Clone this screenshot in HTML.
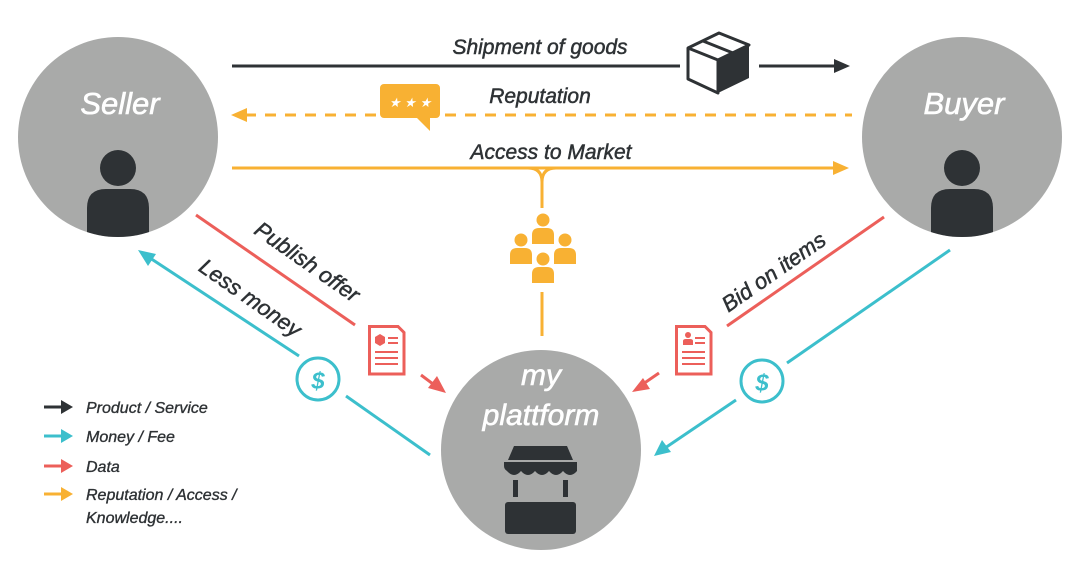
<!DOCTYPE html>
<html><head><meta charset="utf-8"><style>
html,body{margin:0;padding:0;background:#fff;}
svg{display:block;}
text{font-family:"Liberation Sans",sans-serif;font-style:italic;}
.d{stroke:#2e3235;stroke-width:0.5;}
.w{stroke:#fff;stroke-width:0.6;}
</style></head><body>
<svg width="1080" height="578" viewBox="0 0 1080 578">
<defs>
<clipPath id="cs"><circle cx="118" cy="137" r="100"/></clipPath>
<clipPath id="cb"><circle cx="962" cy="137" r="100"/></clipPath>
</defs>
<circle cx="118" cy="137" r="100" fill="#a9aaa9"/>
<circle cx="962" cy="137" r="100" fill="#a9aaa9"/>
<circle cx="541" cy="450" r="100" fill="#a9aaa9"/>
<g fill="#2e3235">
<circle cx="118" cy="168" r="18"/>
<path clip-path="url(#cs)" d="M87 240 V208 Q87 189 106 189 H130 Q149 189 149 208 V240 Z"/>
<circle cx="962" cy="168" r="18"/>
<path clip-path="url(#cb)" d="M931 240 V208 Q931 189 950 189 H974 Q993 189 993 208 V240 Z"/>
</g>
<text class="w" x="120" y="114" font-size="31" fill="#fff" text-anchor="middle">Seller</text>
<text class="w" x="964" y="114" font-size="31" fill="#fff" text-anchor="middle">Buyer</text>
<text class="w" x="541" y="385" font-size="30" fill="#fff" text-anchor="middle">my</text>
<text class="w" x="541" y="425" font-size="30" fill="#fff" text-anchor="middle">plattform</text>
<g fill="#2e3235">
<path d="M508 460 L514 446 H567 L573 460 Z"/>
<path d="M504 462 H577 V471 Q570 479 563 471 Q556 479 549 471 Q542 479 535 471 Q528 479 521 471 Q514 479 507 471 Q504 469 504 466 Z"/>
<rect x="513" y="480" width="5" height="17"/>
<rect x="563" y="480" width="5" height="17"/>
<rect x="505" y="502" width="71" height="32" rx="3"/>
</g>
<line x1="232" y1="66" x2="680" y2="66" stroke="#2e3235" stroke-width="3"/>
<line x1="759" y1="66" x2="835" y2="66" stroke="#2e3235" stroke-width="3"/>
<path d="M850 66 L834 59 L834 73 Z" fill="#2e3235"/>
<g stroke="#2e3235" stroke-width="3" fill="none" stroke-linejoin="round">
<path d="M688 48 L719 33 L749 45 L718 60 Z"/>
<path d="M688 48 V79 L718 93 V60"/>
<path d="M703 41 L733 53 V63"/>
</g>
<path d="M718 60 L749 45 V78 L718 93 Z" fill="#2e3235"/>
<text class="d" x="540" y="54" font-size="21" fill="#2e3235" text-anchor="middle">Shipment of goods</text>
<line x1="245" y1="115" x2="852" y2="115" stroke="#f8b133" stroke-width="3" stroke-dasharray="11 9"/>
<path d="M231 115 L247 108 L247 122 Z" fill="#f8b133"/>
<rect x="380" y="84" width="60" height="34" rx="4" fill="#f8b133"/>
<path d="M415 116 L430 116 L430 131 Z" fill="#f8b133"/>
<text x="410" y="107" font-size="13" fill="#fff" text-anchor="middle" font-style="normal">★ ★ ★</text>
<text class="d" x="540" y="103" font-size="21" fill="#2e3235" text-anchor="middle">Reputation</text>
<line x1="232" y1="168" x2="834" y2="168" stroke="#f8b133" stroke-width="3"/>
<path d="M849 168 L833 161 L833 175 Z" fill="#f8b133"/>
<path d="M528 168 Q542 168 542 182 V208 M556 168 Q542 168 542 182" stroke="#f8b133" stroke-width="3" fill="none"/>
<line x1="542" y1="292" x2="542" y2="336" stroke="#f8b133" stroke-width="3"/>
<text class="d" x="551" y="159" font-size="21" fill="#2e3235" text-anchor="middle">Access to Market</text>
<g fill="#f8b133">
<circle cx="543" cy="220" r="6.5"/><path d="M532 244 V235 Q532 228 539 228 H547 Q554 228 554 235 V244 Z"/>
<circle cx="521" cy="240" r="6.5"/><path d="M510 264 V255 Q510 248 517 248 H525 Q532 248 532 255 V264 Z"/>
<circle cx="565" cy="240" r="6.5"/><path d="M554 264 V255 Q554 248 561 248 H569 Q576 248 576 255 V264 Z"/>
<circle cx="543" cy="259" r="6.5"/><path d="M532 283 V274 Q532 267 539 267 H547 Q554 267 554 274 V283 Z"/>
</g>
<line x1="196" y1="215" x2="355" y2="325" stroke="#ec5f5a" stroke-width="3"/>
<g transform="translate(368,325)">
<path d="M1.5 1.5 H30 L36 7.5 V49 H1.5 Z" fill="#fff" stroke="#ec5f5a" stroke-width="3"/>
<polygon points="12,9 17,12 17,18 12,21 7,18 7,12" fill="#ec5f5a"/>
<rect x="20" y="12" width="10" height="2" fill="#ec5f5a"/><rect x="20" y="17" width="10" height="2" fill="#ec5f5a"/>
<rect x="7" y="26" width="23" height="2" fill="#ec5f5a"/><rect x="7" y="32" width="23" height="2" fill="#ec5f5a"/><rect x="7" y="38" width="23" height="2" fill="#ec5f5a"/>
</g>
<line x1="421" y1="375" x2="437" y2="387" stroke="#ec5f5a" stroke-width="3"/>
<path d="M446 393 L428 388 L437 376 Z" fill="#ec5f5a"/>
<text class="d" transform="translate(303,268) rotate(35)" font-size="22" fill="#2e3235" text-anchor="middle">Publish offer</text>
<line x1="150" y1="258" x2="299" y2="356" stroke="#3cbfcc" stroke-width="3"/>
<path d="M138 250 L156 254 L148 266 Z" fill="#3cbfcc"/>
<circle cx="318" cy="379" r="21" fill="#fff" stroke="#3cbfcc" stroke-width="3"/>
<text x="318" y="389" font-size="24" fill="#3cbfcc" text-anchor="middle" font-style="normal" font-weight="bold">$</text>
<line x1="346" y1="396" x2="430" y2="455" stroke="#3cbfcc" stroke-width="3"/>
<text class="d" transform="translate(246,304) rotate(35)" font-size="22" fill="#2e3235" text-anchor="middle">Less money</text>
<line x1="884" y1="217" x2="727" y2="326" stroke="#ec5f5a" stroke-width="3"/>
<g transform="translate(675,325)">
<path d="M1.5 1.5 H30 L36 7.5 V49 H1.5 Z" fill="#fff" stroke="#ec5f5a" stroke-width="3"/>
<circle cx="13" cy="10" r="3" fill="#ec5f5a"/><path d="M8 20 V16 Q8 14 11 14 H15 Q18 14 18 16 V20 Z" fill="#ec5f5a"/>
<rect x="20" y="12" width="10" height="2" fill="#ec5f5a"/><rect x="20" y="17" width="10" height="2" fill="#ec5f5a"/>
<rect x="7" y="26" width="23" height="2" fill="#ec5f5a"/><rect x="7" y="32" width="23" height="2" fill="#ec5f5a"/><rect x="7" y="38" width="23" height="2" fill="#ec5f5a"/>
</g>
<line x1="659" y1="373" x2="643" y2="384" stroke="#ec5f5a" stroke-width="3"/>
<path d="M632 392 L643 378 L650 389 Z" fill="#ec5f5a"/>
<text class="d" transform="translate(778,278) rotate(-35)" font-size="22" fill="#2e3235" text-anchor="middle">Bid on items</text>
<line x1="950" y1="250" x2="787" y2="363" stroke="#3cbfcc" stroke-width="3"/>
<circle cx="762" cy="381" r="21" fill="#fff" stroke="#3cbfcc" stroke-width="3"/>
<text x="762" y="391" font-size="24" fill="#3cbfcc" text-anchor="middle" font-style="normal" font-weight="bold">$</text>
<line x1="736" y1="400" x2="665" y2="448" stroke="#3cbfcc" stroke-width="3"/>
<path d="M654 456 L662 440 L671 452 Z" fill="#3cbfcc"/>
<g stroke-width="3">
<line x1="44" y1="407" x2="62" y2="407" stroke="#2e3235"/><path d="M73 407 L61 400 L61 414 Z" fill="#2e3235"/>
<line x1="44" y1="436" x2="62" y2="436" stroke="#3cbfcc"/><path d="M73 436 L61 429 L61 443 Z" fill="#3cbfcc"/>
<line x1="44" y1="466" x2="62" y2="466" stroke="#ec5f5a"/><path d="M73 466 L61 459 L61 473 Z" fill="#ec5f5a"/>
<line x1="44" y1="494" x2="62" y2="494" stroke="#f8b133"/><path d="M73 494 L61 487 L61 501 Z" fill="#f8b133"/>
</g>
<g font-size="16" fill="#2e3235" stroke="#2e3235" stroke-width="0.35">
<text x="86" y="413">Product / Service</text>
<text x="86" y="442">Money / Fee</text>
<text x="86" y="472">Data</text>
<text x="86" y="500">Reputation / Access /</text>
<text x="86" y="523">Knowledge....</text>
</g>
</svg>
</body></html>
